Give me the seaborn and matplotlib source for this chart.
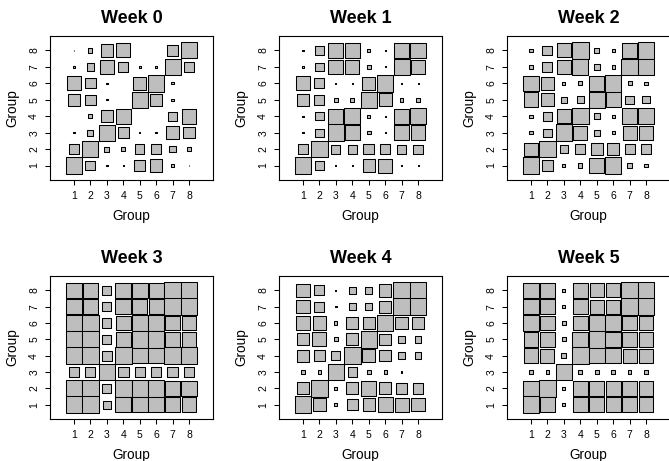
import numpy as np
import pandas as pd
import matplotlib
matplotlib.use("Agg")
import matplotlib.pyplot as plt
import seaborn as sns

# --- data: relative square side per cell, rows listed from group 8 (top) down to group 1 ---
groups = [1, 2, 3, 4, 5, 6, 7, 8]
titles = ["Week 0", "Week 1", "Week 2", "Week 3", "Week 4", "Week 5"]

week0 = [
    [0.03, 0.25, 0.74, 0.85, 0.00, 0.00, 0.65, 0.97],
    [0.16, 0.45, 0.83, 0.60, 0.14, 0.14, 0.97, 0.60],
    [0.87, 0.62, 0.08, 0.00, 0.81, 1.00, 0.14, 0.00],
    [0.70, 0.62, 0.08, 0.00, 0.95, 0.75, 0.14, 0.00],
    [0.03, 0.24, 0.70, 0.93, 0.00, 0.00, 0.57, 0.89],
    [0.10, 0.36, 0.97, 0.70, 0.08, 0.08, 0.75, 0.70],
    [0.59, 0.97, 0.30, 0.26, 0.57, 0.59, 0.40, 0.26],
    [1.00, 0.60, 0.08, 0.03, 0.69, 0.77, 0.16, 0.03],
]
week1 = [
    [0.08, 0.50, 0.92, 0.90, 0.20, 0.06, 0.90, 0.96],
    [0.08, 0.50, 0.90, 0.85, 0.22, 0.06, 0.97, 0.85],
    [0.85, 0.60, 0.06, 0.06, 0.80, 1.00, 0.06, 0.06],
    [0.75, 0.60, 0.22, 0.22, 1.00, 0.80, 0.22, 0.22],
    [0.08, 0.50, 0.90, 0.95, 0.16, 0.06, 0.90, 0.95],
    [0.08, 0.50, 1.00, 0.90, 0.22, 0.06, 0.90, 0.90],
    [0.60, 1.00, 0.55, 0.55, 0.65, 0.65, 0.55, 0.55],
    [1.00, 0.50, 0.06, 0.06, 0.75, 0.85, 0.06, 0.06],
]
week2 = [
    [0.20, 0.60, 0.85, 1.00, 0.30, 0.20, 0.95, 1.00],
    [0.20, 0.60, 0.85, 0.95, 0.35, 0.20, 1.00, 0.95],
    [0.95, 0.75, 0.20, 0.25, 0.90, 1.00, 0.25, 0.20],
    [0.90, 0.80, 0.35, 0.40, 1.00, 0.90, 0.50, 0.45],
    [0.20, 0.55, 0.85, 1.00, 0.35, 0.20, 0.95, 0.95],
    [0.20, 0.50, 1.00, 0.85, 0.35, 0.20, 0.85, 0.85],
    [0.80, 1.00, 0.50, 0.60, 0.75, 0.75, 0.60, 0.60],
    [1.00, 0.70, 0.20, 0.25, 0.90, 1.00, 0.30, 0.20],
]
week3 = [
    [0.95, 0.95, 0.55, 0.95, 0.95, 0.90, 1.00, 1.00],
    [0.95, 0.95, 0.55, 0.95, 0.90, 0.90, 1.00, 1.00],
    [1.00, 1.00, 0.55, 0.90, 1.00, 1.00, 0.90, 0.90],
    [1.00, 1.00, 0.55, 0.90, 1.00, 1.00, 0.90, 0.90],
    [1.00, 1.00, 0.60, 1.00, 0.95, 0.95, 1.00, 1.00],
    [0.60, 0.60, 1.00, 0.65, 0.60, 0.60, 0.65, 0.60],
    [1.00, 1.00, 0.55, 1.00, 1.00, 1.00, 0.95, 0.95],
    [1.00, 1.00, 0.50, 0.95, 0.95, 0.95, 0.90, 0.90],
]
week4 = [
    [0.80, 0.60, 0.07, 0.45, 0.45, 0.75, 1.00, 1.00],
    [0.80, 0.60, 0.08, 0.45, 0.45, 0.75, 1.00, 1.00],
    [0.90, 0.80, 0.20, 0.75, 0.75, 1.00, 0.75, 0.75],
    [0.75, 0.85, 0.25, 0.75, 1.00, 0.70, 0.40, 0.40],
    [0.75, 0.70, 0.55, 1.00, 0.80, 0.70, 0.40, 0.40],
    [0.20, 0.20, 1.00, 0.55, 0.25, 0.20, 0.07, 0.05],
    [0.75, 1.00, 0.20, 0.75, 0.90, 0.75, 0.65, 0.65],
    [1.00, 0.75, 0.20, 0.70, 0.75, 0.90, 0.85, 0.80],
]
week5 = [
    [0.95, 0.95, 0.20, 0.90, 0.85, 0.85, 1.00, 1.00],
    [0.95, 0.95, 0.20, 0.90, 0.85, 0.85, 1.00, 1.00],
    [0.95, 0.90, 0.25, 0.90, 0.95, 1.00, 0.90, 0.90],
    [0.90, 0.90, 0.25, 0.95, 1.00, 0.95, 0.90, 0.90],
    [0.90, 0.85, 0.30, 1.00, 0.95, 0.95, 0.85, 0.85],
    [0.20, 0.20, 1.00, 0.25, 0.25, 0.25, 0.20, 0.20],
    [0.95, 1.00, 0.20, 0.90, 0.90, 0.90, 0.90, 0.90],
    [1.00, 0.90, 0.20, 0.90, 0.90, 0.90, 0.90, 0.90],
]
weeks = [week0, week1, week2, week3, week4, week5]

sns.set_style("white")
plt.rcParams['font.family'] = ['Liberation Sans', 'DejaVu Sans']
plt.rcParams.update({"text.color": "black", "axes.labelcolor": "black",
                     "xtick.color": "black", "ytick.color": "black"})

W, H = 669, 461
fig = plt.figure(figsize=(W / 100, H / 100), dpi=100)

# panel boxes in pixels (left, top, right, bottom)
col_px = [(50, 213), (279, 442), (507, 670)]
row_px = [(36, 180), (276, 419)]

for k, (title, mat) in enumerate(zip(titles, weeks)):
    r, c = divmod(k, 3)
    l, rt = col_px[c]
    t, b = row_px[r]
    ax = fig.add_axes([l / W, 1 - b / H, (rt - l) / W, (b - t) / H])
    ax.set_xlim(-0.46, 9.46)
    ax.set_ylim(0.12, 8.88)

    rows = []
    for i, row in enumerate(mat):
        for j, v in enumerate(row):
            if v > 0:
                rows.append({"x": groups[j], "y": groups[::-1][i], "v": v})
    df = pd.DataFrame(rows)

    ppu = ax.bbox.width / (9.46 + 0.46)  # pixels per data unit
    side_pt = df["v"].to_numpy() * ppu * 72 / fig.dpi
    sns.scatterplot(data=df, x="x", y="y", marker="s", s=side_pt ** 2,
                    color="#BEBEBE", edgecolor="black", linewidth=0.75,
                    legend=False, ax=ax)

    ax.set_xticks(groups)
    ax.set_yticks(groups)
    ax.tick_params(axis="both", direction="out", length=3.6, width=0.75,
                   color="black", labelcolor="black", labelsize=7.5, pad=4.2,
                   bottom=True, left=True)
    for lab in ax.get_yticklabels():
        lab.set_rotation(90)
        lab.set_va("center")
    for sp in ax.spines.values():
        sp.set_color("black")
        sp.set_linewidth(0.8)

    ax.set_title(title, fontsize=13, fontweight="bold", pad=9.6, color="black")
    ax.set_xlabel("Group", fontsize=9.8, color="black")
    ax.set_ylabel("Group", fontsize=9.8, color="black")
    ax.xaxis.set_label_coords(0.5, -0.278)
    ax.xaxis.label.set_va("baseline")
    ax.yaxis.set_label_coords(-0.23, 0.5)
    ax.yaxis.label.set_va("center")

fig.savefig("out.png", dpi=100)
